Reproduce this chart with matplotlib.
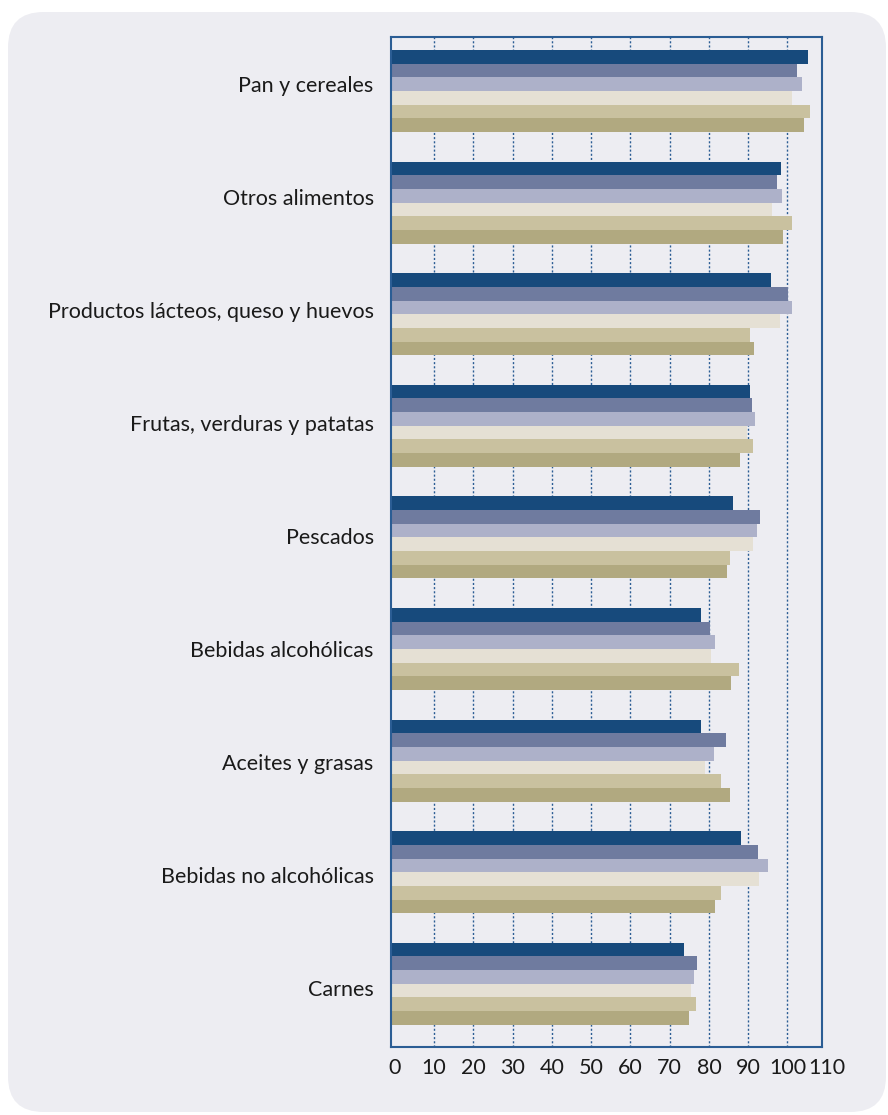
import matplotlib
matplotlib.use("Agg")
import matplotlib.pyplot as plt
from matplotlib.patches import FancyBboxPatch
import numpy as np

plt.rcParams['font.family'] = ['Lato', 'DejaVu Sans']

categories = [
    "Pan y cereales",
    "Otros alimentos",
    "Productos lácteos, queso y huevos",
    "Frutas, verduras y patatas",
    "Pescados",
    "Bebidas alcohólicas",
    "Aceites y grasas",
    "Bebidas no alcohólicas",
    "Carnes",
]

serie_1 = [105.2, 98.3, 95.8, 90.4, 86.1, 77.9, 77.9, 88.2, 73.6]
serie_2 = [102.4, 97.3, 100.1, 90.9, 93.0, 80.2, 84.3, 92.5, 76.9]
serie_3 = [103.6, 98.5, 101.1, 91.7, 92.2, 81.5, 81.3, 95.0, 76.2]
serie_4 = [101.1, 96.0, 98.0, 89.8, 91.2, 80.5, 79.0, 92.7, 75.4]
serie_5 = [105.7, 101.1, 90.4, 91.2, 85.3, 87.6, 83.0, 83.0, 76.7]
serie_6 = [104.1, 98.8, 91.4, 87.9, 84.6, 85.6, 85.3, 81.5, 74.9]

series = [serie_1, serie_2, serie_3, serie_4, serie_5, serie_6]
colors = ["#174a7c", "#6f7b9f", "#adb1c9", "#e5e0d4", "#c9c19f", "#b1a980"]

x_ticks = [0, 10, 20, 30, 40, 50, 60, 70, 80, 90, 100, 110]

W, H = 888, 1115
fig = plt.figure(figsize=(W / 100, H / 100), dpi=100)
fig.patch.set_facecolor("white")

bg = "#ededf2"
panel = FancyBboxPatch((8 / W, 3 / H), (W - 10) / W, (H - 15) / H,
                       boxstyle="round,pad=0,rounding_size=0.04",
                       transform=fig.transFigure, facecolor=bg,
                       edgecolor="none", zorder=-5, mutation_aspect=W / H)
fig.patches.append(panel)

left, right, top, bottom = 391, 822, 37, 1047
ax = fig.add_axes([left / W, 1 - bottom / H, (right - left) / W, (bottom - top) / H])
ax.set_zorder(2)
ax.set_facecolor(bg)

period = 111.6
h = (82 / 6) / period
n = len(categories)
y0 = np.arange(n)

xmin, xmax = -0.95, 108.8
ax.set_xlim(xmin, xmax)

# bars run from the left edge of the frame out to each value
for j, (vals, c) in enumerate(zip(series, colors)):
    vals = np.asarray(vals)
    ax.barh(y0 + (j + 0.5) * h, vals - xmin, left=xmin, height=h, color=c,
            edgecolor="none", align="center", zorder=2)

ax.set_ylim((bottom - 50) / period, -(50 - top) / period)

# category labels are spaced slightly wider than the bar groups
label_step = 113.0 / period
ax.set_yticks(34 / period + y0 * label_step)
ax.set_yticklabels(categories, fontsize=15.5, color="#1a1a1a")
ax.tick_params(axis="y", length=0, pad=12.5)
ax.set_xticks([])

for v in x_ticks[1:-1]:
    ax.axvline(v, color="#2b5d94", linestyle=(0, (1.5, 1.5)), linewidth=1.0, zorder=1)

# value scale under the frame, including the 110 mark beyond the right edge
for v in x_ticks:
    ax.text(v, -0.011, str(v), transform=ax.get_xaxis_transform(),
            ha="center", va="top", fontsize=15.5, color="#1a1a1a", clip_on=False)

for s in ax.spines.values():
    s.set_color("#2b5d94")
    s.set_linewidth(1.5)

fig.savefig("out.png", dpi=100, facecolor="white")
